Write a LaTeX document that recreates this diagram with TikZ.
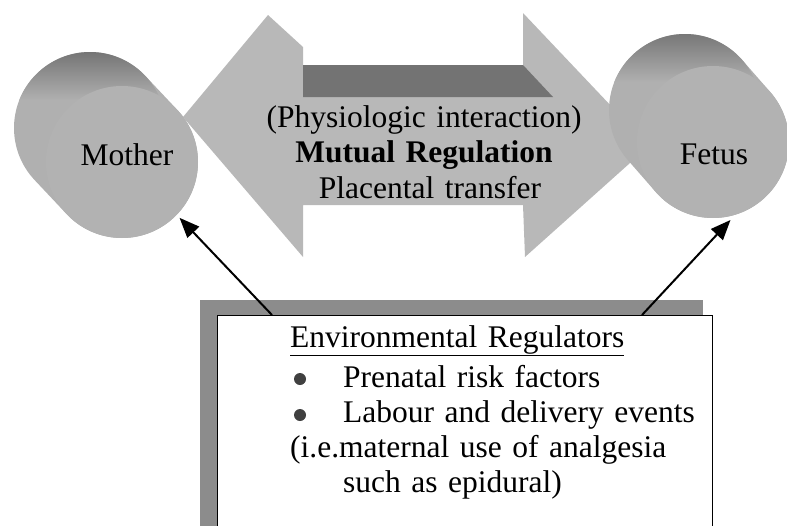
\documentclass[tikz,border=0pt]{standalone}
\usepackage{fontspec}
\setmainfont{Liberation Serif}
\usetikzlibrary{arrows.meta,calc}
\begin{document}
\begin{tikzpicture}[x=1pt,y=-1pt,
  lbl/.style={font=\fontsize{31.5}{35}\selectfont, inner sep=0pt},
  disc/.style={circle, minimum size=152pt, inner sep=0pt, fill=black!30},
  body/.style={line width=152pt, line cap=round, draw=black!31},
  conn/.style={line width=2pt, -{Triangle[length=20pt,width=16pt]}},
  bulletdot/.style={fill=black!75}]
\clip (0,0) rectangle (787,525);
% double block arrow
\fill[black!28] (183,117) -- (268,15) -- (303,47) -- (303,65) -- (523,65)
  -- (523,13) -- (649,146) -- (525,257) -- (523,205) -- (303,205)
  -- (303,257) -- cycle;
\fill[black!55] (303,65) -- (523,65) -- (553,97) -- (303,97) -- cycle;
\node[lbl, text width=420pt, align=center, anchor=base] (mid) at (424,127)
  {(Physiologic interaction)\hspace*{22pt}\\[0.5pt] \textbf{Mutual Regulation}\\[0.5pt] \hspace*{12pt}Placental transfer};
% Mother cylinder
\draw[body] (90,128) -- (122,162);
\begin{scope}
  \clip (90,128) circle (76pt);
  \shade[top color=black!55, bottom color=black!31] (0,50) rectangle (200,100);
\end{scope}
\node[disc] (Mother) at (122,162) {};
\node[lbl, anchor=base] (mlabel) at (127,165) {Mother};
% Fetus cylinder
\draw[body] (685,110) -- (713,142);
\begin{scope}
  \clip (685,110) circle (76pt);
  \shade[top color=black!55, bottom color=black!31] (600,30) rectangle (787,82);
\end{scope}
\node[disc] (Fetus) at (713,142) {};
\node[lbl, anchor=base] (flabel) at (714,164) {Fetus};
% environmental box
\fill[black!45] (200,300) rectangle (703,540);
\node[draw, line width=1.2pt, fill=white, anchor=north west,
  minimum width=495pt, minimum height=230pt, inner sep=0pt] (env) at (217,315) {};
\node[lbl, text width=420pt, align=left, anchor=base west] (envtext) at (290,347)
  {\underline{Environmental Regulators}\\[5pt]
   \hspace*{53pt}Prenatal risk factors\\
   \hspace*{53pt}Labour and delivery events\\
   (i.e.maternal use of analgesia\\
   \hspace*{53pt}such as epidural)};
\fill[bulletdot] (300,379) circle (6pt);
\fill[bulletdot] (300,415) circle (6pt);
% connectors
\coordinate (s1) at ($(env.north west)+(55,0)$);
\coordinate (s2) at ($(env.north west)+(425,0)$);
\draw[conn, shorten >=4pt] (s1) -- (Mother.-44);
\draw[conn, shorten >=7pt] (s2) -- (Fetus.-73);
\end{tikzpicture}
\end{document}
